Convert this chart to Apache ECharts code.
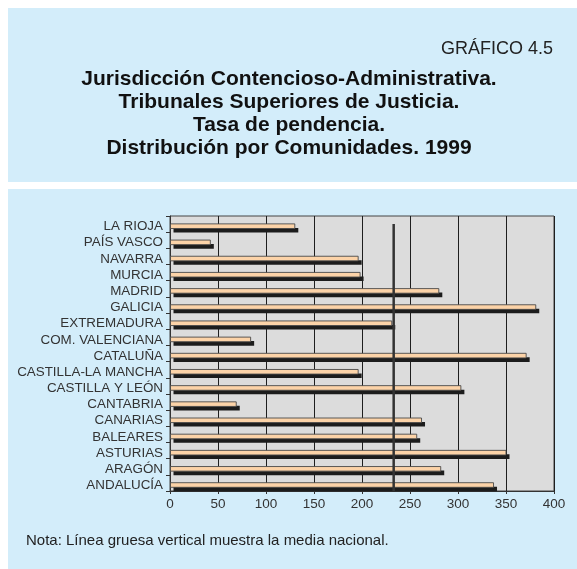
<!DOCTYPE html>
<html><head><meta charset="utf-8">
<script src="https://cdn.jsdelivr.net/npm/echarts@6/dist/echarts.min.js"></script>
<style>html,body{margin:0;padding:0;background:#fff}#c{width:577px;height:569px}</style>
</head><body><div id="c"></div>
<script>
const categories = ['ANDALUCÍA','ARAGÓN','ASTURIAS','BALEARES','CANARIAS','CANTABRIA','CASTILLA Y LEÓN','CASTILLA-LA MANCHA','CATALUÑA','COM. VALENCIANA','EXTREMADURA','GALICIA','MADRID','MURCIA','NAVARRA','PAÍS VASCO','LA RIOJA'];
const tasaPendencia = [337, 282, 350, 257, 262, 69, 303, 196, 371, 84, 231, 381, 280, 198, 196, 42, 130];
const mediaNacional = 233;
const xMin = 0, xMax = 400, xStep = 50;
const headerLabel = 'GRÁFICO 4.5';
const titleLines = ['Jurisdicción Contencioso-Administrativa.','Tribunales Superiores de Justicia.','Tasa de pendencia.','Distribución por Comunidades. 1999'];
const noteText = 'Nota: Línea gruesa vertical muestra la media nacional.';

const FONT = '"Liberation Sans", Arial, sans-serif';
const PANEL = '#d3edfa';
const chart = echarts.init(document.getElementById('c'), null, {renderer:'canvas'});

const graphics = [
  {type:'rect', shape:{x:8,y:8,width:569,height:174}, style:{fill:PANEL}, z:-10},
  {type:'rect', shape:{x:8,y:189,width:569,height:380}, style:{fill:PANEL}, z:-10},
  {type:'text', x:553, y:58, style:{text:headerLabel, font:'18px '+FONT, fill:'#222', textAlign:'right', textVerticalAlign:'bottom'}}
];
titleLines.forEach((t,i)=>{
  graphics.push({type:'text', x:289, y:90+i*23, style:{text:t, font:'bold 21px '+FONT, fill:'#111', textAlign:'center', textVerticalAlign:'bottom'}});
});
graphics.push({type:'text', x:26, y:548, style:{text:noteText, font:'15px '+FONT, fill:'#222', textAlign:'left', textVerticalAlign:'bottom'}});

chart.setOption({
  animation:false,
  backgroundColor:'#fff',
  graphic:graphics,
  grid:{left:170, top:216, width:384, height:275, show:true, backgroundColor:'#dcdcdc', borderColor:'#444', borderWidth:1},
  xAxis:{type:'value', min:xMin, max:xMax, interval:xStep,
    axisLine:{show:true, lineStyle:{color:'#333'}},
    axisTick:{show:true, length:3, lineStyle:{color:'#333'}},
    splitLine:{show:true, lineStyle:{color:'#1e1e1e', width:1}},
    axisLabel:{color:'#333', fontSize:13.5, fontFamily:FONT, margin:6}},
  yAxis:{type:'category', data:categories,
    axisLine:{show:true, lineStyle:{color:'#333'}},
    axisTick:{show:true, length:4, alignWithLabel:false, interval:0, lineStyle:{color:'#333'}},
    splitLine:{show:false},
    axisLabel:{margin:7, interval:0,
      formatter:function(v){ return '{a|'+v+'}'; },
      rich:{a:{color:'#333', fontSize:13.4, fontFamily:FONT, padding:[5,0,0,0]}}}},
  series:[
    {type:'custom', encode:{x:0,y:1}, z:3,
      data: tasaPendencia.map((v,i)=>[v,i]),
      renderItem:function(params, api){
        const idx = api.value(1), v = api.value(0);
        const s = api.coord([0, idx]), e = api.coord([v, idx]);
        const w = e[0]-s[0], cy = s[1];
        return {type:'group', children:[
          {type:'rect', shape:{x:s[0]+3.5, y:cy+3.8, width:w, height:4.6}, style:{fill:'#1c1c1c'}},
          {type:'rect', shape:{x:s[0]+0.5, y:cy-0.2, width:w-0.5, height:4.6}, style:{fill:'#fcd3a8', stroke:'#4a4a4a', lineWidth:0.9}}
        ]};
      }},
    {type:'custom', encode:{x:0,y:1}, z:4,
      data:[[mediaNacional, categories.length-1]],
      renderItem:function(params, api){
        const p = api.coord([api.value(0), api.value(1)]);
        const cs = params.coordSys;
        return {type:'line', shape:{x1:p[0], y1:p[1], x2:p[0], y2:cs.y+cs.height}, style:{stroke:'#333', lineWidth:2.5}};
      }}
  ]
});
</script></body></html>
